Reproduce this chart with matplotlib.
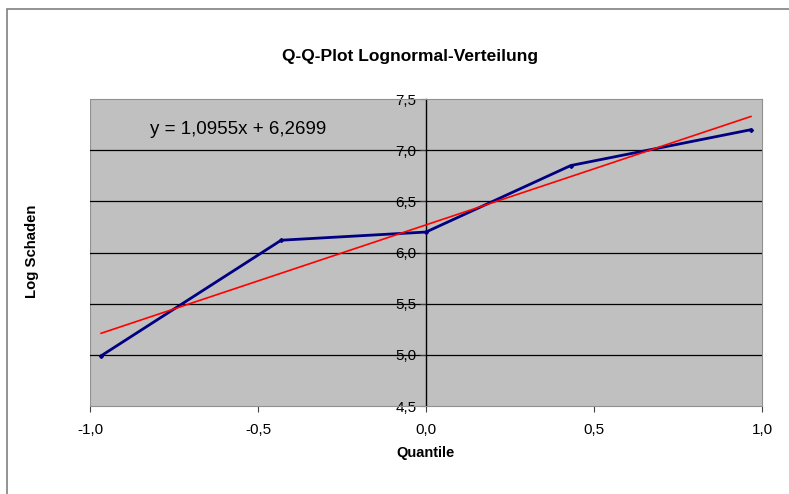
import matplotlib.pyplot as plt
import numpy as np
from matplotlib.patches import Rectangle

# Q-Q data: normal quantiles vs log of damage
quantile = [-0.967, -0.431, 0.0, 0.431, 0.967]
log_schaden = [4.99, 6.12, 6.20, 6.85, 7.20]
slope, intercept = 1.0955, 6.2699
x_ticks = [-1.0, -0.5, 0.0, 0.5, 1.0]
y_ticks = [4.5, 5.0, 5.5, 6.0, 6.5, 7.0, 7.5]

plt.rcParams['font.family'] = ['Liberation Sans', 'DejaVu Sans']

fig = plt.figure(figsize=(7.89, 4.94), dpi=100)
W, H = 789, 494

# outer chart frame
fig.patches.append(Rectangle((7 / W, -0.1), 1.2, 1 - 9 / H + 0.1, transform=fig.transFigure,
                             fill=False, edgecolor='#808080', lw=1.2))

ax = fig.add_axes([90 / W, (H - 406) / H, 672 / W, 307 / H])
ax.set_facecolor('#c0c0c0')
ax.set_xlim(-1, 1)
ax.set_ylim(4.5, 7.5)

for y in y_ticks[1:-1]:
    ax.axhline(y, color='black', lw=0.9, zorder=1)

for s in ['top', 'right', 'bottom']:
    ax.spines[s].set_color('#909090')
ax.spines['left'].set_position(('data', 0))
ax.spines['left'].set_color('black')
ax.spines['left'].set_linewidth(1.0)
ax.axvline(-1, color='#909090', lw=1.5, zorder=0)

ax.plot(quantile, log_schaden, color='#000080', lw=2, marker='D', ms=2, zorder=3)
xs = np.array([quantile[0], quantile[-1]])
ax.plot(xs, slope * xs + intercept, color='red', lw=1.2, zorder=4)

ax.set_xticks(x_ticks)
ax.set_xticklabels([f'{v:.1f}'.replace('.', ',') for v in x_ticks])
ax.set_yticks(y_ticks)
ax.set_yticklabels([f'{v:.1f}'.replace('.', ',') for v in y_ticks])
ax.tick_params(axis='both', labelsize=11, length=4, color='#404040', pad=8)
ax.tick_params(axis='y', pad=3)

ax.text(-0.82, 7.2, 'y = 1,0955x + 6,2699', fontsize=13.5, va='center', ha='left')

fig.text(410 / W, 1 - 57 / H, 'Q-Q-Plot Lognormal-Verteilung', fontsize=12.5,
         fontweight='bold', ha='center', va='center')
fig.text(426 / W, 1 - 453 / H, 'Quantile', fontsize=10.5, fontweight='bold',
         ha='center', va='center')
fig.text(32 / W, 1 - 251 / H, 'Log Schaden', fontsize=10.7, fontweight='bold',
         ha='center', va='center', rotation=90)

fig.savefig('out.png', dpi=100)
